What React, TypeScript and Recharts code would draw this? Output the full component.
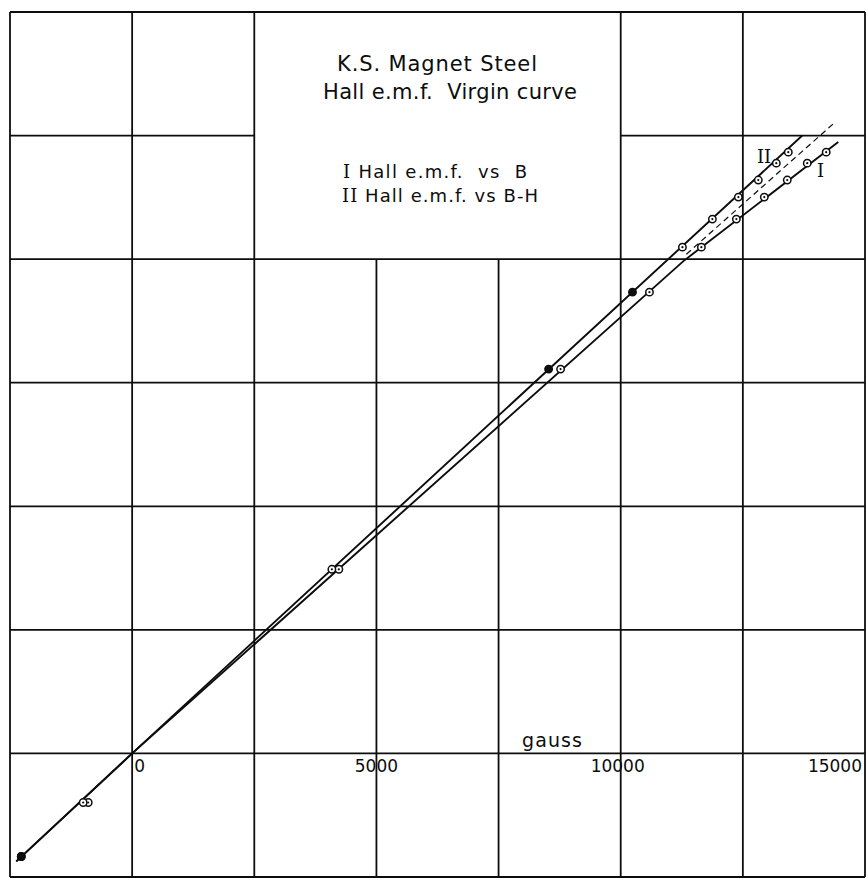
import React from 'react';
import {
  ComposedChart,
  Line,
  Scatter,
  XAxis,
  YAxis,
  ReferenceLine,
} from 'recharts';

// grid / axis ticks (gauss on x, hall e.m.f. in divisions on y)
const xTicks = [-2500, 0, 2500, 5000, 7500, 10000, 12500, 15000];
const yTicks = [-1, 0, 1, 2, 3, 4, 5, 6];
const tickLabelValues = [0, 5000, 10000, 15000];
const tickLabelTexts = ['0', '5000', '10000', '15000'];
// blank panel holding the title, grid left out inside it
const titleBoxX = [2500, 10000];
const titleBoxY = [4, 6];

// measured points: same e.m.f. reading, plotted against B (I) and B-H (II)
const hallEmf = [-0.834, -0.397, 1.49, 3.11, 3.733, 4.097, 4.324, 4.502, 4.64, 4.777, 4.866];
const bGauss = [-2269, -899, 4231, 8769, 10588, 11651, 12367, 12939, 13409, 13818, 14206];
const bMinusH = [-2269, -1002, 4088, 8524, 10241, 11263, 11876, 12408, 12816, 13185, 13430];
const filledII = [0, 3, 4];

// drawn curves
const curveIX = [-2371, 0, 11283, 14452];
const curveIY = [-0.874, 0, 3.984, 4.947];
const curveIIX = [-2371, 0, 13716];
const curveIIY = [-0.874, 0, 5.0];
const dashX = [11344, 14390];
const dashY = [4.04, 5.109];

const INK = '#0d0d0d';
const X_MIN = xTicks[0];
const X_MAX = xTicks[xTicks.length - 1];
const Y_MIN = yTicks[0];
const Y_MAX = yTicks[yTicks.length - 1];

const pointsI = bGauss.map((x, i) => ({ x, y: hallEmf[i], filled: false }));
const pointsII = bMinusH.map((x, i) => ({ x, y: hallEmf[i], filled: filledII.includes(i) }));
const lineI = curveIX.map((x, i) => ({ x, y: curveIY[i] }));
const lineII = curveIIX.map((x, i) => ({ x, y: curveIIY[i] }));
const dashLine = dashX.map((x, i) => ({ x, y: dashY[i] }));
const tickLabels = tickLabelValues.map((x, i) => ({ x, y: 0, text: tickLabelTexts[i], idx: i }));

// grid segments, split round the title panel
const gridSegments: { x: number; y: number }[][] = [];
xTicks.forEach((t) => {
  const inside = t > titleBoxX[0] && t < titleBoxX[1];
  gridSegments.push([{ x: t, y: Y_MIN }, { x: t, y: inside ? titleBoxY[0] : Y_MAX }]);
});
yTicks.forEach((t) => {
  const inside = t > titleBoxY[0] && t < titleBoxY[1];
  if (inside) {
    gridSegments.push([{ x: X_MIN, y: t }, { x: titleBoxX[0], y: t }]);
    gridSegments.push([{ x: titleBoxX[1], y: t }, { x: X_MAX, y: t }]);
  } else {
    gridSegments.push([{ x: X_MIN, y: t }, { x: X_MAX, y: t }]);
  }
});

const PointMark = (props: any) => {
  const { cx, cy, payload } = props;
  if (cx == null || cy == null) return null;
  return (
    <g>
      <circle cx={cx} cy={cy} r={3.7} fill={payload.filled ? INK : '#fff'} stroke={INK} strokeWidth={1.5} />
      {!payload.filled && <circle cx={cx} cy={cy} r={1.1} fill={INK} />}
    </g>
  );
};

const TickText = (props: any) => {
  const { cx, cy, payload } = props;
  // hand-lettered labels sit differently against their lines
  const anchors = ['start', 'middle', 'middle', 'end'];
  const shifts = [2, 0, -3, -3];
  return (
    <text
      x={cx + shifts[payload.idx]}
      y={cy + 19}
      textAnchor={anchors[payload.idx]}
      fontFamily="DejaVu Sans, sans-serif"
      fontSize={17}
      fill={INK}
    >
      {payload.text}
    </text>
  );
};

const serif = 'DejaVu Serif, Liberation Serif, serif';
const sans = 'DejaVu Sans, sans-serif';

export default function App() {
  return (
    <div style={{ position: 'absolute', left: 0, top: 0, width: 866, height: 878, background: '#fff' }}>
      <ComposedChart
        width={866}
        height={878}
        margin={{ top: 12, right: 1, bottom: 0, left: 9 }}
      >
        <XAxis
          type="number"
          dataKey="x"
          domain={[X_MIN, X_MAX]}
          ticks={xTicks}
          allowDataOverflow
          height={1}
          tick={false}
          tickLine={false}
          axisLine={false}
        />
        <YAxis
          type="number"
          dataKey="y"
          domain={[Y_MIN, Y_MAX]}
          ticks={yTicks}
          allowDataOverflow
          width={1}
          tick={false}
          tickLine={false}
          axisLine={false}
        />
        {gridSegments.map((seg, i) => (
          <ReferenceLine key={`g${i}`} segment={seg} stroke={INK} strokeWidth={1.8} ifOverflow="visible" />
        ))}
        <Line data={lineI} dataKey="y" type="linear" stroke={INK} strokeWidth={1.9} dot={false} isAnimationActive={false} />
        <Line data={lineII} dataKey="y" type="linear" stroke={INK} strokeWidth={1.9} dot={false} isAnimationActive={false} />
        <Line
          data={dashLine}
          dataKey="y"
          type="linear"
          stroke={INK}
          strokeWidth={1.2}
          strokeDasharray="6 4"
          dot={false}
          isAnimationActive={false}
        />
        <Scatter data={pointsI} dataKey="y" shape={<PointMark />} isAnimationActive={false} />
        <Scatter data={pointsII} dataKey="y" shape={<PointMark />} isAnimationActive={false} />
        <Scatter data={tickLabels} dataKey="y" shape={<TickText />} isAnimationActive={false} />
      </ComposedChart>

      <svg
        width={866}
        height={878}
        style={{ position: 'absolute', left: 0, top: 0, pointerEvents: 'none' }}
      >
        <g fill={INK} fontFamily={sans}>
          <text x={337} y={71} fontSize={21} textLength={200} lengthAdjust="spacing" xmlSpace="preserve">K.S. Magnet Steel</text>
          <text x={323} y={99} fontSize={21} textLength={254} lengthAdjust="spacing" xmlSpace="preserve">Hall e.m.f.  Virgin curve</text>
          <text x={343} y={178} fontSize={18} textLength={184} lengthAdjust="spacing" xmlSpace="preserve">
            <tspan fontFamily={serif}>I</tspan> Hall e.m.f.  vs  B
          </text>
          <text x={342} y={202} fontSize={18} textLength={196} lengthAdjust="spacing" xmlSpace="preserve">
            <tspan fontFamily={serif}>II</tspan> Hall e.m.f. vs B-H
          </text>
          <text x={522} y={747} fontSize={19} textLength={60} lengthAdjust="spacing">gauss</text>
          <text x={757} y={163} fontSize={18} fontFamily={serif}>II</text>
          <text x={817} y={177} fontSize={18} fontFamily={serif}>I</text>
        </g>
      </svg>
    </div>
  );
}
